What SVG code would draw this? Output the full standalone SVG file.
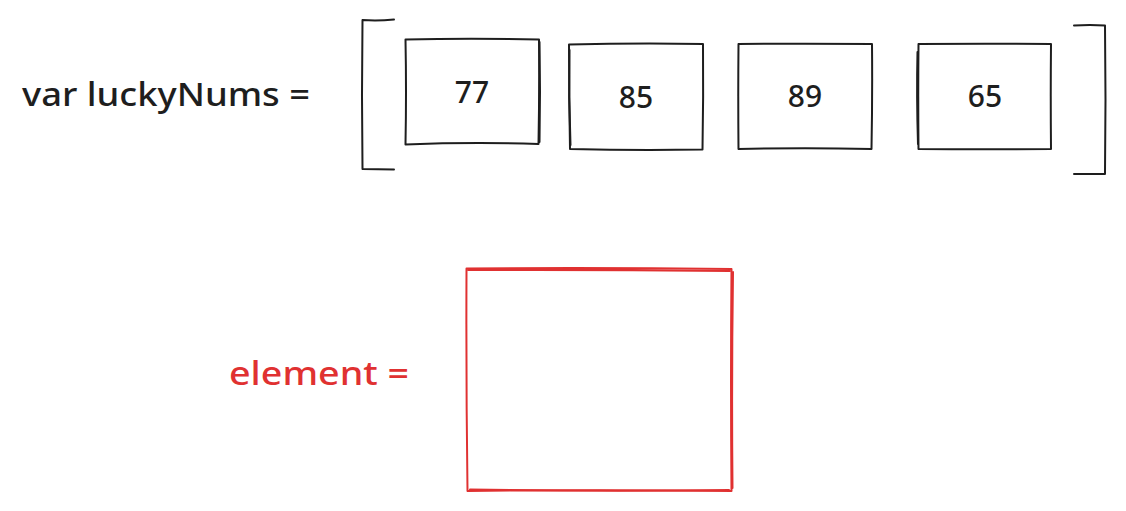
<svg xmlns="http://www.w3.org/2000/svg" width="1126" height="511" viewBox="0 0 1126 511">
<style>
.s{fill:none;stroke:#1e1e1e;stroke-width:2;stroke-linecap:round;stroke-linejoin:round}
.r{fill:none;stroke:#e03131;stroke-width:2;stroke-linecap:round;stroke-linejoin:round}
.t{font-family:"Noto Sans","Liberation Sans",sans-serif;font-weight:500;fill:#1e1e1e}
.n{font-family:"Noto Sans","Liberation Sans",sans-serif;font-weight:500;fill:#1e1e1e;font-size:30px;text-anchor:middle}
</style>
<rect width="1126" height="511" fill="#ffffff"/>
<g id="label-luckyNums">
<text class="t" x="22" y="106" font-size="32" textLength="288" lengthAdjust="spacingAndGlyphs">var luckyNums =</text>
</g>
<g id="bracket-left">
<path class="s" d="M394 19.5 Q378 21 362.5 20 Q361.5 95 362.5 169 L394 169.5"/>
</g>
<g id="box-77">
<path class="s" d="M405.5 39.5 Q470 38 539 39.5 Q539.5 92 538.5 144 Q472 142 405.5 144.5 Q406.5 92 405.5 39.5 Z"/>
<path class="s" d="M539.5 42 Q540.5 92 539.5 142" stroke-width="1"/>
<text class="n" x="472" y="103">77</text>
</g>
<g id="box-85">
<path class="s" d="M569 44.5 Q636 43 703 44 Q703.5 97 702.5 149.5 Q636 150.5 570 149 Q569 97 569 44.5 Z"/>
<path class="s" d="M569.5 50 Q568.5 97 570.5 145" stroke-width="1"/>
<text class="n" x="636" y="108">85</text>
</g>
<g id="box-89">
<path class="s" d="M738.5 44 Q805 43.5 872 44 Q872.5 96 871.5 149 Q805 147.5 738.5 149 Q738 96 738.5 44 Z"/>
<text class="n" x="805" y="107">89</text>
</g>
<g id="box-65">
<path class="s" d="M918.5 44 Q985 43.5 1051 44 Q1050.5 96 1051 149 Q985 149.5 918.5 149 Q918 96 918.5 44 Z"/>
<path class="s" d="M917.5 52 Q916.5 96 918 144" stroke-width="1"/>
<text class="n" x="985" y="107">65</text>
</g>
<g id="bracket-right">
<path class="s" d="M1074 25.5 Q1090 24.5 1105 25.5 Q1106 100 1105 174 L1074 174"/>
</g>
<g id="label-element">
<text class="t" x="229" y="385" font-size="32" textLength="180" lengthAdjust="spacingAndGlyphs" style="fill:#e03131">element =</text>
</g>
<g id="box-element">
<path class="r" d="M466.5 268.5 Q599 267.5 731.5 269 Q730.5 380 731.5 491 Q599 489.5 467.5 491 Q466 380 466.5 268.5 Z"/>
<path class="r" d="M468 270 Q600 269.5 730 271 M733 272 Q731.5 380 732.5 488 M470 489.5 Q600 491.5 729 490" stroke-width="1"/>
</g>
</svg>
